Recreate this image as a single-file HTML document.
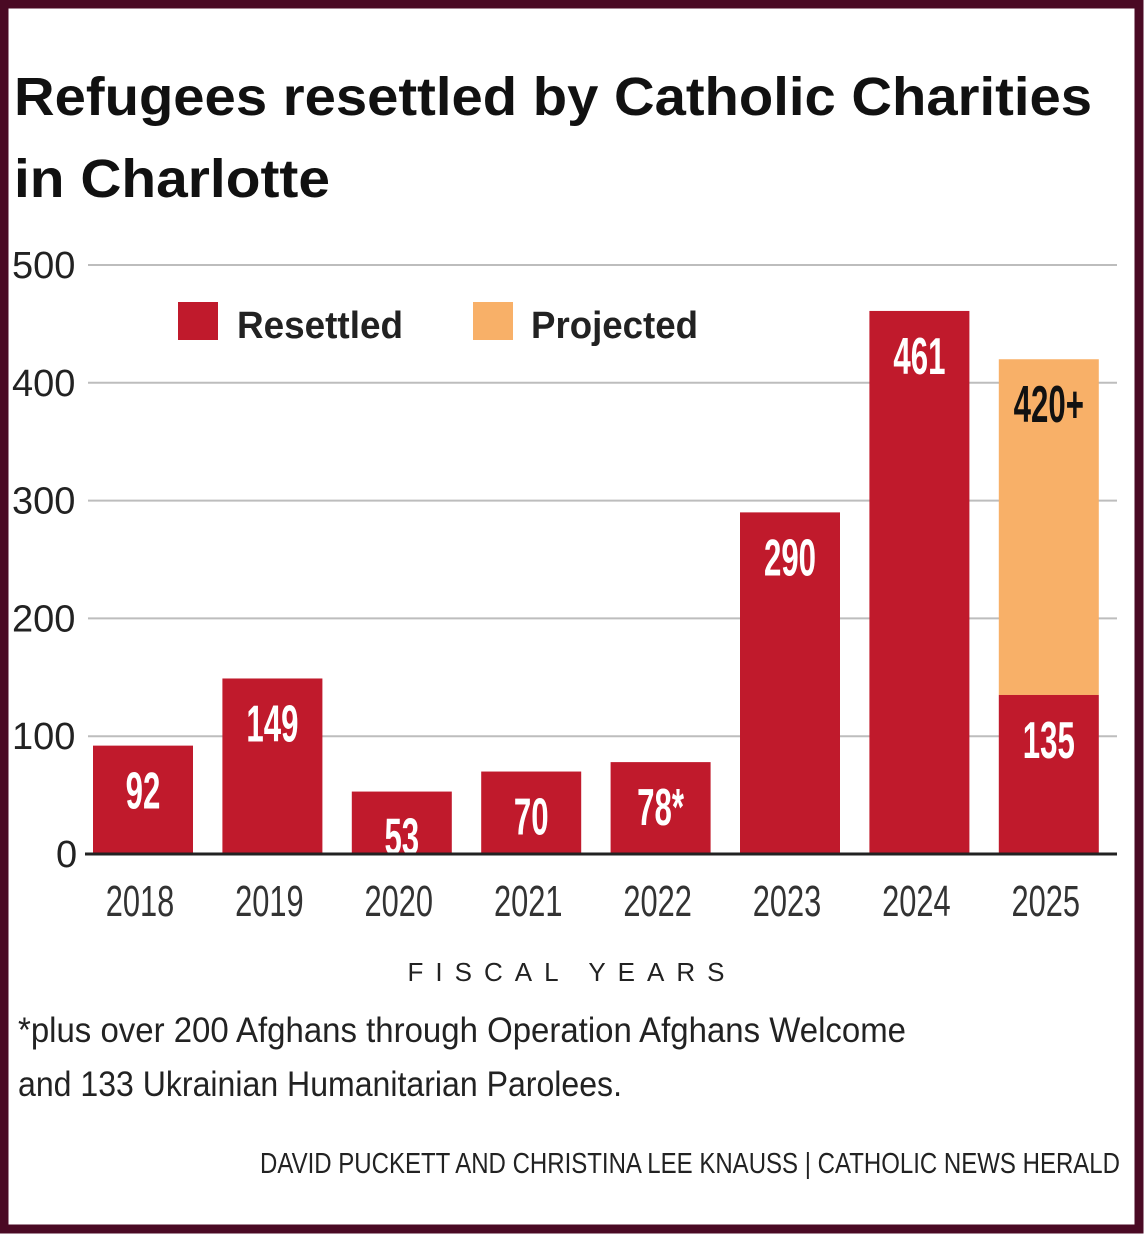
<!DOCTYPE html>
<html><head><meta charset="utf-8"><style>
html,body{margin:0;padding:0;background:#fff;}
svg{display:block;}
text{font-family:"Liberation Sans Narrow","Liberation Sans",sans-serif;}
</style></head><body>
<svg id="chart" width="1144" height="1234" viewBox="0 0 1144 1234">
<rect x="4" y="4" width="1135" height="1225" fill="#fff" stroke="#4a0a24" stroke-width="9"/>
<text x="14" y="115" font-size="54" font-weight="bold" fill="#111" textLength="1078" lengthAdjust="spacingAndGlyphs">Refugees resettled by Catholic Charities</text>
<text x="14" y="197" font-size="54" font-weight="bold" fill="#111" textLength="316" lengthAdjust="spacingAndGlyphs">in Charlotte</text>
<g id="grid"></g>
<g id="bars"></g>
<g>
<rect x="178" y="302" width="40" height="38" fill="#c01a2c"/>
<text x="237" y="338" font-size="38" font-weight="bold" fill="#222" textLength="166" lengthAdjust="spacingAndGlyphs">Resettled</text>
<rect x="473" y="302" width="40" height="38" fill="#f8b068"/>
<text x="531" y="338" font-size="38" font-weight="bold" fill="#222" textLength="167" lengthAdjust="spacingAndGlyphs">Projected</text>
</g>
<text x="572" y="981" font-size="26" fill="#222" text-anchor="middle" letter-spacing="12">FISCAL YEARS</text>
<text x="18" y="1042" font-size="35" fill="#222" textLength="888" lengthAdjust="spacingAndGlyphs">*plus over 200 Afghans through Operation Afghans Welcome</text>
<text x="18" y="1096" font-size="35" fill="#222" textLength="604" lengthAdjust="spacingAndGlyphs">and 133 Ukrainian Humanitarian Parolees.</text>
<text x="260" y="1173" font-size="29" fill="#222" textLength="860" lengthAdjust="spacingAndGlyphs">DAVID PUCKETT AND CHRISTINA LEE KNAUSS | CATHOLIC NEWS HERALD</text>
</svg>
<script>
const categories = ["2018","2019","2020","2021","2022","2023","2024","2025"];
const resettled = [92,149,53,70,78,290,461,135];
const projected = [0,0,0,0,0,0,0,420];
const valueLabels = ["92","149","53","70","78*","290","461","135"];
const projectedLabels = ["","","","","","","","420+"];
const yTicks = [0,100,200,300,400,500];

const NS="http://www.w3.org/2000/svg";
const y0=854, pxPer=(854-265)/500;
const yScale=v=>y0-v*pxPer;
const xScale=i=>93+i*129.4;
const barW=100;
function mk(tag,attrs,parent){const e=document.createElementNS(NS,tag);for(const k in attrs)e.setAttribute(k,attrs[k]);parent.appendChild(e);return e;}
const grid=document.getElementById('grid'), bars=document.getElementById('bars');
yTicks.forEach(t=>{
  if(t>0){const l=mk('line',{x1:88,x2:1117,y1:yScale(t),y2:yScale(t),stroke:'#bdbdbd','stroke-width':2},grid);
  
  }
  const tx=mk('text',{x:t===0?56:12,y:yScale(t)+13,'font-size':38,fill:'#222'},grid);
  tx.textContent=t;
  
  
});
categories.forEach((c,i)=>{
  const x=xScale(i), cx=x+barW/2;
  if(projected[i]>0){
    const p=mk('rect',{x:x,y:yScale(projected[i]),width:barW,height:yScale(resettled[i])-yScale(projected[i]),fill:'#f8b068'},bars);
    
    
    const pl=mk('text',{x:0,y:0,'font-size':52,'font-weight':'bold',fill:'#111','text-anchor':'middle',transform:'translate('+cx+','+(yScale(projected[i])+63)+') scale(0.6,1)'},bars);
    pl.textContent=projectedLabels[i];
    
    
  }
  const r=mk('rect',{x:x,y:yScale(resettled[i]),width:barW,height:y0-yScale(resettled[i]),fill:'#c01a2c'},bars);
  
  
  const vl=mk('text',{x:0,y:0,'font-size':52,'font-weight':'bold',fill:'#fff','text-anchor':'middle',transform:'translate('+cx+','+(yScale(resettled[i])+63)+') scale(0.6,1)'},bars);
  vl.textContent=valueLabels[i];
  
  
  const xl=mk('text',{x:0,y:0,'font-size':44,fill:'#333','text-anchor':'middle',transform:'translate('+(cx-3)+',916) scale(0.7,1)'},bars);
  xl.textContent=c;
  
  
});
const ax=mk('line',{x1:85,x2:1117,y1:y0,y2:y0,stroke:'#222','stroke-width':3},bars);


</script>
</body></html>
